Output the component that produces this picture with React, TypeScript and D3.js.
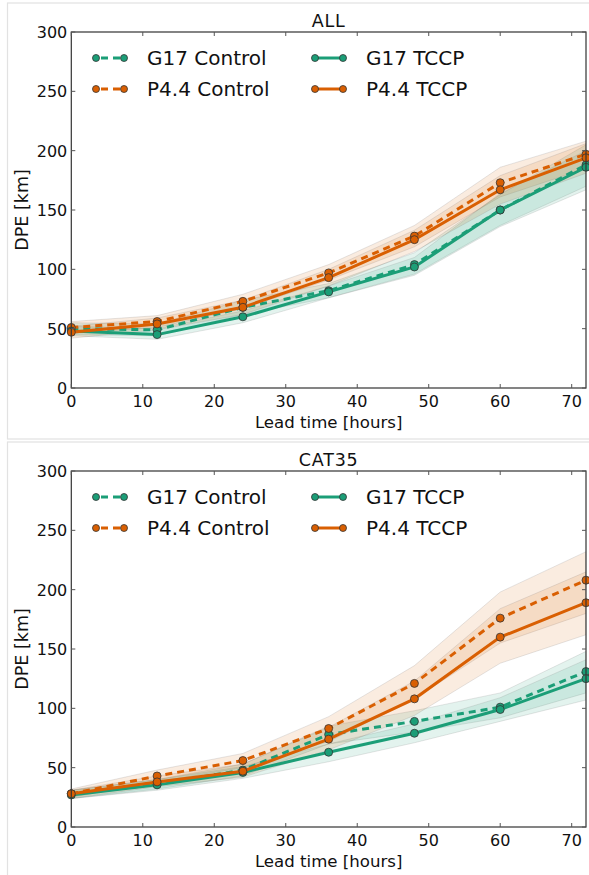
import React from "react";
import * as d3 from "d3";

const leadTimes = [0, 12, 24, 36, 48, 60, 72];
const xTicks = [0, 10, 20, 30, 40, 50, 60, 70];
const yTicks = [0, 50, 100, 150, 200, 250, 300];

// ALL panel
const allG17Control = [50, 49, 68, 82, 104, 150, 188];
const allP44Control = [51, 56, 73, 97, 128, 173, 197];
const allG17TCCP = [48, 45, 60, 81, 102, 150, 186];
const allP44TCCP = [47, 54, 68, 93, 125, 167, 194];
const allG17ControlLo = [45, 44, 62, 76, 96, 137, 170];
const allG17ControlHi = [55, 54, 74, 88, 114, 163, 205];
const allG17TCCPLo = [44, 41, 55, 76, 95, 136, 167];
const allG17TCCPHi = [52, 50, 65, 86, 110, 164, 200];
const allP44ControlLo = [46, 51, 67, 91, 119, 161, 185];
const allP44ControlHi = [56, 61, 79, 104, 137, 186, 208];
const allP44TCCPLo = [42, 49, 62, 86, 115, 155, 181];
const allP44TCCPHi = [52, 59, 74, 100, 133, 179, 206];

// CAT35 panel
const catG17Control = [28, 36, 48, 78, 89, 101, 131];
const catP44Control = [28, 43, 56, 83, 121, 176, 208];
const catG17TCCP = [27, 35.5, 46, 63, 79, 99, 125];
const catP44TCCP = [28, 38, 47, 74, 108, 160, 189];
const catG17ControlLo = [24, 32, 43, 70, 80, 92, 113];
const catG17ControlHi = [31, 40, 53, 85, 98, 113, 148];
const catG17TCCPLo = [24, 31, 41, 55, 71, 89, 107];
const catG17TCCPHi = [31, 40, 51, 70, 87, 109, 141];
const catP44ControlLo = [25, 38, 50, 72, 108, 155, 180];
const catP44ControlHi = [32, 48, 62, 93, 136, 198, 232];
const catP44TCCPLo = [24, 34, 42, 65, 94, 138, 162];
const catP44TCCPHi = [31, 43, 53, 84, 123, 184, 215];

const GREEN = "#1b9e77";
const ORANGE = "#d95f02";
const FONT = "DejaVu Sans, sans-serif";

type Series = { name: string; color: string; dashed: boolean; values: number[]; lo: number[]; hi: number[] };

const panels: { title: string; top: number; series: Series[] }[] = [
  {
    title: "ALL",
    top: 32,
    series: [
      { name: "G17 Control", color: GREEN, dashed: true, values: allG17Control, lo: allG17ControlLo, hi: allG17ControlHi },
      { name: "P4.4 Control", color: ORANGE, dashed: true, values: allP44Control, lo: allP44ControlLo, hi: allP44ControlHi },
      { name: "G17 TCCP", color: GREEN, dashed: false, values: allG17TCCP, lo: allG17TCCPLo, hi: allG17TCCPHi },
      { name: "P4.4 TCCP", color: ORANGE, dashed: false, values: allP44TCCP, lo: allP44TCCPLo, hi: allP44TCCPHi },
    ],
  },
  {
    title: "CAT35",
    top: 471,
    series: [
      { name: "G17 Control", color: GREEN, dashed: true, values: catG17Control, lo: catG17ControlLo, hi: catG17ControlHi },
      { name: "P4.4 Control", color: ORANGE, dashed: true, values: catP44Control, lo: catP44ControlLo, hi: catP44ControlHi },
      { name: "G17 TCCP", color: GREEN, dashed: false, values: catG17TCCP, lo: catG17TCCPLo, hi: catG17TCCPHi },
      { name: "P4.4 TCCP", color: ORANGE, dashed: false, values: catP44TCCP, lo: catP44TCCPLo, hi: catP44TCCPHi },
    ],
  },
];

const LEFT = 71.3;
const RIGHT = 586;
const PH = 356;
const DASH = "7,5";

function Panel({ title, top, series }: { title: string; top: number; series: Series[] }) {
  const x = d3.scaleLinear().domain([0, 72]).range([LEFT, RIGHT]);
  const y = d3.scaleLinear().domain([0, 300]).range([top + PH, top]);
  const line = d3.line<number>().x((_, i) => x(leadTimes[i])).y((d) => y(d));
  const area = (lo: number[], hi: number[]) =>
    d3
      .area<number>()
      .x((_, i) => x(leadTimes[i]))
      .y0((_, i) => y(lo[i]))
      .y1((_, i) => y(hi[i]))(lo) || "";
  const bottom = top + PH;
  const legendCols = [
    { mx: [96, 124], tx: 147 },
    { mx: [315, 343], tx: 366 },
  ];
  return (
    <g>
      <rect x={7.5} y={top - 29} width={600} height={436} fill="#fff" stroke="#e2e2e2" strokeWidth={1.2} />
      <text x={(LEFT + RIGHT) / 2} y={top - 5.5} textAnchor="middle" fontFamily={FONT} fontSize={17.5} letterSpacing={0.8} fill="#111">
        {title}
      </text>
      <defs>
        <clipPath id={`clip-${title}`}>
          <rect x={LEFT} y={top} width={RIGHT - LEFT} height={PH} />
        </clipPath>
      </defs>
      <g clipPath={`url(#clip-${title})`}>
        {series.map((s) => (
          <path key={s.name + "band"} d={area(s.lo, s.hi)} fill={s.color} fillOpacity={0.12} stroke="#777" strokeOpacity={0.18} strokeWidth={1} />
        ))}
      </g>
      {series.map((s) => (
        <g key={s.name}>
          <path d={line(s.values) || ""} fill="none" stroke={s.color} strokeWidth={3} strokeDasharray={s.dashed ? DASH : undefined} />
          {s.values.map((v, i) => (
            <circle key={i} cx={x(leadTimes[i])} cy={y(v)} r={4} fill={s.color} stroke="#333" strokeWidth={0.8} />
          ))}
        </g>
      ))}
      {/* axes frame */}
      <rect x={LEFT} y={top} width={RIGHT - LEFT} height={PH} fill="none" stroke="#333" strokeWidth={1.2} />
      {xTicks.map((t) => (
        <g key={"x" + t}>
          <line x1={x(t)} x2={x(t)} y1={bottom} y2={bottom - 4} stroke="#555" />
          <line x1={x(t)} x2={x(t)} y1={top} y2={top + 4} stroke="#555" />
          <text x={x(t)} y={bottom + 18.5} textAnchor="middle" fontFamily={FONT} fontSize={16} fill="#111">
            {t}
          </text>
        </g>
      ))}
      {yTicks.map((t) => (
        <g key={"y" + t}>
          <line x1={LEFT} x2={LEFT + 4} y1={y(t)} y2={y(t)} stroke="#555" />
          <line x1={RIGHT} x2={RIGHT - 4} y1={y(t)} y2={y(t)} stroke="#555" />
          <text x={LEFT - 4} y={y(t) + 6} textAnchor="end" fontFamily={FONT} fontSize={16} fill="#111">
            {t}
          </text>
        </g>
      ))}
      <text x={(LEFT + RIGHT) / 2} y={bottom + 40} textAnchor="middle" fontFamily={FONT} fontSize={16.6} fill="#111">
        Lead time [hours]
      </text>
      <text transform={`translate(28,${top + PH / 2}) rotate(-90)`} textAnchor="middle" fontFamily={FONT} fontSize={17.5} fill="#111">
        DPE [km]
      </text>
      {/* legend */}
      {series.map((s, i) => {
        const col = legendCols[s.dashed ? 0 : 1];
        const row = i % 2;
        const ly = top + 26 + row * 31;
        return (
          <g key={"leg" + s.name}>
            <line x1={col.mx[0]} x2={col.mx[1]} y1={ly} y2={ly} stroke={s.color} strokeWidth={3} strokeDasharray={s.dashed ? DASH : undefined} strokeDashoffset={s.dashed ? -5 : 0} />
            <circle cx={col.mx[0]} cy={ly} r={3.5} fill={s.color} stroke="#333" strokeWidth={0.8} />
            <circle cx={col.mx[1]} cy={ly} r={3.5} fill={s.color} stroke="#333" strokeWidth={0.8} />
            <text x={col.tx} y={ly + 7} fontFamily={FONT} fontSize={20} fill="#111">
              {s.name}
            </text>
          </g>
        );
      })}
    </g>
  );
}

export default function App() {
  return (
    <svg width={589} height={875} style={{ position: "absolute", left: 0, top: 0 }}>
      <rect width={589} height={875} fill="#fff" />
      {panels.map((p) => (
        <Panel key={p.title} {...p} />
      ))}
    </svg>
  );
}
